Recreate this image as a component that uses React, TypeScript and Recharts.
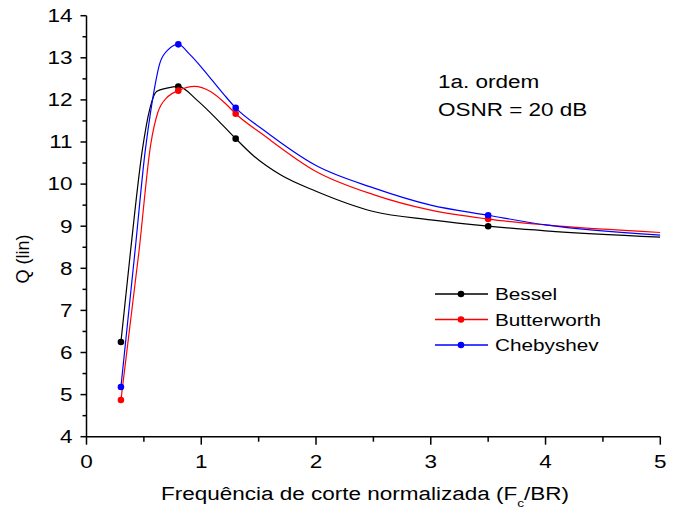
import React from 'react';
import { LineChart, Line, XAxis, YAxis } from 'recharts';

const xTicks = [0, 0.5, 1, 1.5, 2, 2.5, 3, 3.5, 4, 4.5, 5];
const yTicks = [4, 4.5, 5, 5.5, 6, 6.5, 7, 7.5, 8, 8.5, 9, 9.5, 10, 10.5, 11, 11.5, 12, 12.5, 13, 13.5, 14];

// points where the symbols sit
const markerX = [0.3, 0.8, 1.3, 3.5];

const besselX = [0.3, 0.385, 0.487, 0.55, 0.61, 0.7, 0.8, 0.96, 1.1, 1.3, 1.46, 1.69, 2, 2.5, 3, 3.5, 4, 5];
const besselQ = [6.25, 8.44, 10.82, 11.77, 12.2, 12.28, 12.32, 12.0, 11.64, 11.08, 10.66, 10.22, 9.83, 9.35, 9.15, 9.0, 8.89, 8.74];

const butterX = [0.3, 0.459, 0.56, 0.62, 0.71, 0.8, 0.94, 1.08, 1.22, 1.3, 1.54, 2, 2.5, 3, 3.5, 4, 5];
const butterQ = [4.87, 8.44, 10.95, 11.69, 12.08, 12.22, 12.32, 12.2, 11.89, 11.67, 11.17, 10.3, 9.75, 9.38, 9.17, 9.03, 8.85];

const chebyX = [0.3, 0.424, 0.513, 0.536, 0.58, 0.64, 0.71, 0.8, 0.9, 1.0, 1.1, 1.2, 1.3, 1.54, 2, 2.5, 3, 3.5, 4, 5];
const chebyQ = [5.18, 8.44, 10.82, 11.29, 12.08, 12.88, 13.19, 13.32, 13.08, 12.78, 12.45, 12.12, 11.81, 11.29, 10.44, 9.91, 9.5, 9.26, 9.03, 8.79];

const series = [
  { name: 'Bessel', color: '#000000', data: besselX.map((x, i) => ({ x, q: besselQ[i] })) },
  { name: 'Butterworth', color: '#ff0000', data: butterX.map((x, i) => ({ x, q: butterQ[i] })) },
  { name: 'Chebyshev', color: '#0000ff', data: chebyX.map((x, i) => ({ x, q: chebyQ[i] })) },
];

const FONT = '"Liberation Sans", Arial, sans-serif';
const SX = 1.25;

const isMajor = (v: number) => Number.isInteger(v);

const BottomTick = (p: any) => {
  const v = p.payload.value;
  return (
    <g>
      <line x1={p.x} x2={p.x} y1={p.y} y2={p.y + (isMajor(v) ? 8 : 5)} stroke="#000" strokeWidth={1.5} />
      {isMajor(v) && (
        <text transform={`translate(${p.x},${p.y + 31}) scale(${SX},1)`} textAnchor="middle" fontSize={18} fontFamily={FONT} fill="#000">
          {v}
        </text>
      )}
    </g>
  );
};

const TopTick = (p: any) => {
  const v = p.payload.value;
  return <line x1={p.x} x2={p.x} y1={p.y} y2={p.y + (isMajor(v) ? 8 : 4)} stroke="#000" strokeWidth={1.5} />;
};

const LeftTick = (p: any) => {
  const v = p.payload.value;
  return (
    <g>
      <line x1={p.x - (isMajor(v) ? 6 : 4)} x2={p.x} y1={p.y} y2={p.y} stroke="#000" strokeWidth={1.5} />
      {isMajor(v) && (
        <text transform={`translate(${p.x - 14},${p.y + 6.3}) scale(${SX},1)`} textAnchor="end" fontSize={18} fontFamily={FONT} fill="#000">
          {v}
        </text>
      )}
    </g>
  );
};

const RightTick = (p: any) => {
  const v = p.payload.value;
  return <line x1={p.x - (isMajor(v) ? 8 : 4)} x2={p.x} y1={p.y} y2={p.y} stroke="#000" strokeWidth={1.5} />;
};

const makeDot = (color: string) => (p: any) =>
  markerX.includes(p.payload.x) ? (
    <circle key={p.index} cx={p.cx} cy={p.cy} r={3.3} fill={color} stroke="none" />
  ) : (
    <g key={p.index} />
  );

export default function App() {
  return (
    <div style={{ position: 'relative', width: 679, height: 511, background: '#fff' }}>
      <style>{'body{margin:0}'}</style>
      <LineChart width={679} height={511} margin={{ top: 15.7, right: 18.7, bottom: 0, left: 0 }}>
        <XAxis
          type="number"
          dataKey="x"
          domain={[0, 5]}
          allowDataOverflow
          ticks={xTicks}
          interval={0}
          height={74.3}
          tickSize={0}
          tickMargin={0}
          tickLine={false}
          tick={BottomTick}
          axisLine={{ stroke: '#000', strokeWidth: 1.5 }}
        />
        <XAxis
          xAxisId="top"
          orientation="top"
          type="number"
          domain={[0, 5]}
          allowDataOverflow
          ticks={xTicks}
          interval={0}
          height={0}
          tickSize={0}
          tickMargin={0}
          tickLine={false}
          tick={TopTick}
          axisLine={{ stroke: '#000', strokeWidth: 1.5 }}
        />
        <YAxis
          type="number"
          domain={[4, 14]}
          allowDataOverflow
          ticks={yTicks}
          interval={0}
          width={86.5}
          tickSize={0}
          tickMargin={0}
          tickLine={false}
          tick={LeftTick}
          axisLine={{ stroke: '#000', strokeWidth: 1.5 }}
        />
        <YAxis
          yAxisId="right"
          orientation="right"
          type="number"
          domain={[4, 14]}
          allowDataOverflow
          ticks={yTicks}
          interval={0}
          width={0}
          tickSize={0}
          tickMargin={0}
          tickLine={false}
          tick={RightTick}
          axisLine={{ stroke: '#000', strokeWidth: 1.5 }}
        />
        {series.map((s) => (
          <Line
            key={s.name}
            data={s.data}
            dataKey="q"
            type="monotone"
            stroke={s.color}
            strokeWidth={1.2}
            dot={makeDot(s.color)}
            activeDot={false}
            isAnimationActive={false}
          />
        ))}
      </LineChart>
      <svg width={679} height={511} style={{ position: 'absolute', left: 0, top: 0, pointerEvents: 'none' }}>
        <g fontFamily={FONT} fill="#000">
          <text transform={`translate(438,88.3) scale(${SX},1)`} fontSize={18}>1a. ordem</text>
          <text transform={`translate(438,115.7) scale(${SX},1)`} fontSize={18}>OSNR = 20 dB</text>
          <text transform={`translate(365,500) scale(${SX},1)`} fontSize={18} textAnchor="middle">
            Frequência de corte normalizada (F
            <tspan fontSize={11} dy={7}>c</tspan>
            <tspan dy={-7}>/BR)</tspan>
          </text>
          <text transform="translate(28.5,259) rotate(-90)" fontSize={18} textAnchor="middle">Q (lin)</text>
          {series.map((s, i) => (
            <g key={s.name}>
              <line x1={435} x2={488} y1={294 + i * 25.5} y2={294 + i * 25.5} stroke={s.color} strokeWidth={1.3} />
              <circle cx={461} cy={294 + i * 25.5} r={3.3} fill={s.color} />
              <text transform={`translate(495,${300 + i * 25.5}) scale(1.22,1)`} fontSize={17}>{s.name}</text>
            </g>
          ))}
        </g>
      </svg>
    </div>
  );
}
